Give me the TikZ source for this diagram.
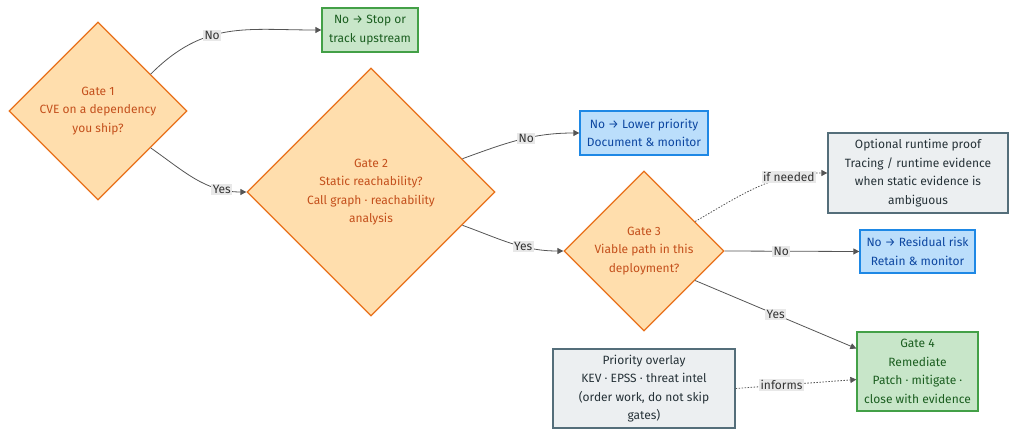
\documentclass[tikz,border=0pt]{standalone}
\usepackage{fontspec}
\setmainfont{Fira Sans}
\usetikzlibrary{shapes.geometric,arrows.meta}
\definecolor{dfill}{HTML}{FFDEAD}
\definecolor{ddraw}{HTML}{E8701A}
\definecolor{dtext}{HTML}{C4501C}
\definecolor{gfill}{HTML}{C8E6C9}
\definecolor{gdraw}{HTML}{43A047}
\definecolor{gtext}{HTML}{1B5E20}
\definecolor{bfill}{HTML}{BBDEFB}
\definecolor{bdraw}{HTML}{1E88E5}
\definecolor{btext}{HTML}{0D47A1}
\definecolor{sfill}{HTML}{ECEFF1}
\definecolor{sdraw}{HTML}{546E7A}
\definecolor{stext}{HTML}{263238}
\definecolor{edgec}{HTML}{555555}
\definecolor{lblfill}{HTML}{E8E8E8}
\tikzset{
  gate/.style={diamond, aspect=1, draw=ddraw, fill=dfill, text=dtext, line width=1.3pt, inner sep=0pt, align=center, minimum width=#1, minimum height=#1},
  greenbox/.style={rectangle, draw=gdraw, fill=gfill, text=gtext, line width=1.3pt, inner sep=0pt, align=center},
  bluebox/.style={rectangle, draw=bdraw, fill=bfill, text=btext, line width=1.3pt, inner sep=0pt, align=center},
  graybox/.style={rectangle, draw=sdraw, fill=sfill, text=stext, line width=1.3pt, inner sep=0pt, align=center},
  edge/.style={draw=edgec, line width=0.8pt, -{Triangle[length=6pt,width=6pt]}},
  dotedge/.style={edge, dash pattern=on 1.5pt off 1.5pt},
  lbl/.style={fill=lblfill, text=black!80, inner sep=1.5pt, font=\fontsize{12}{14}\selectfont}
}
\begin{document}
\begin{tikzpicture}[font=\fontsize{12}{18.5}\selectfont]
\useasboundingbox (0,0) rectangle (1024pt,-441pt);
\begin{scope}[x=1pt,y=1pt]
\node[gate=178pt] (g1) at (98,-111) {Gate 1\\CVE on a dependency\\you ship?};
\node[greenbox, minimum width=96pt, minimum height=44pt] (stop) at (370,-30) {No → Stop or\\track upstream};
\node[gate=248pt] (g2) at (371,-192) {Gate 2\\Static reachability?\\Call graph · reachability\\analysis};
\node[bluebox, minimum width=128pt, minimum height=44pt] (low) at (644,-133) {No → Lower priority\\Document \& monitor};
\node[gate=160pt] (g3) at (644,-251) {Gate 3\\Viable path in this\\deployment?};
\node[graybox, minimum width=180pt, minimum height=80pt] (opt) at (918,-173) {Optional runtime proof\\Tracing / runtime evidence\\when static evidence is\\ambiguous};
\node[bluebox, minimum width=115pt, minimum height=43pt] (res) at (917.5,-251.5) {No → Residual risk\\Retain \& monitor};
\node[greenbox, minimum width=121pt, minimum height=79pt] (g4) at (917.5,-371.5) {Gate 4\\Remediate\\Patch · mitigate ·\\close with evidence};
\node[graybox, minimum width=182pt, minimum height=79pt] (pri) at (644,-388.5) {Priority overlay\\KEV · EPSS · threat intel\\(order work, do not skip\\gates)};

\draw[edge] (g1.35) to[out=45,in=180,looseness=1.1] node[lbl,pos=0.4]{No} (stop.west);
\draw[edge] (g1.-35) to[out=-35,in=180] node[lbl,pos=0.78]{Yes} (g2.west);
\draw[edge] (g2.20) to[out=20,in=180] node[lbl,pos=0.56]{No} (low.west);
\draw[edge] (g2.-20) to[out=-20,in=180] node[lbl,pos=0.62]{Yes} (g3.west);
\draw[dotedge] (g3.30) to[out=30,in=180] node[lbl,pos=0.74]{if needed} (opt.west);
\draw[edge] (g3.east) -- node[lbl,pos=0.42]{No} (res.west);
\draw[edge] (g3.-30) -- node[lbl,pos=0.5]{Yes} ([yshift=23pt]g4.west);
\draw[dotedge] (pri.east) -- node[lbl,pos=0.38]{informs} ([yshift=-8pt]g4.west);
\end{scope}
\end{tikzpicture}
\end{document}
